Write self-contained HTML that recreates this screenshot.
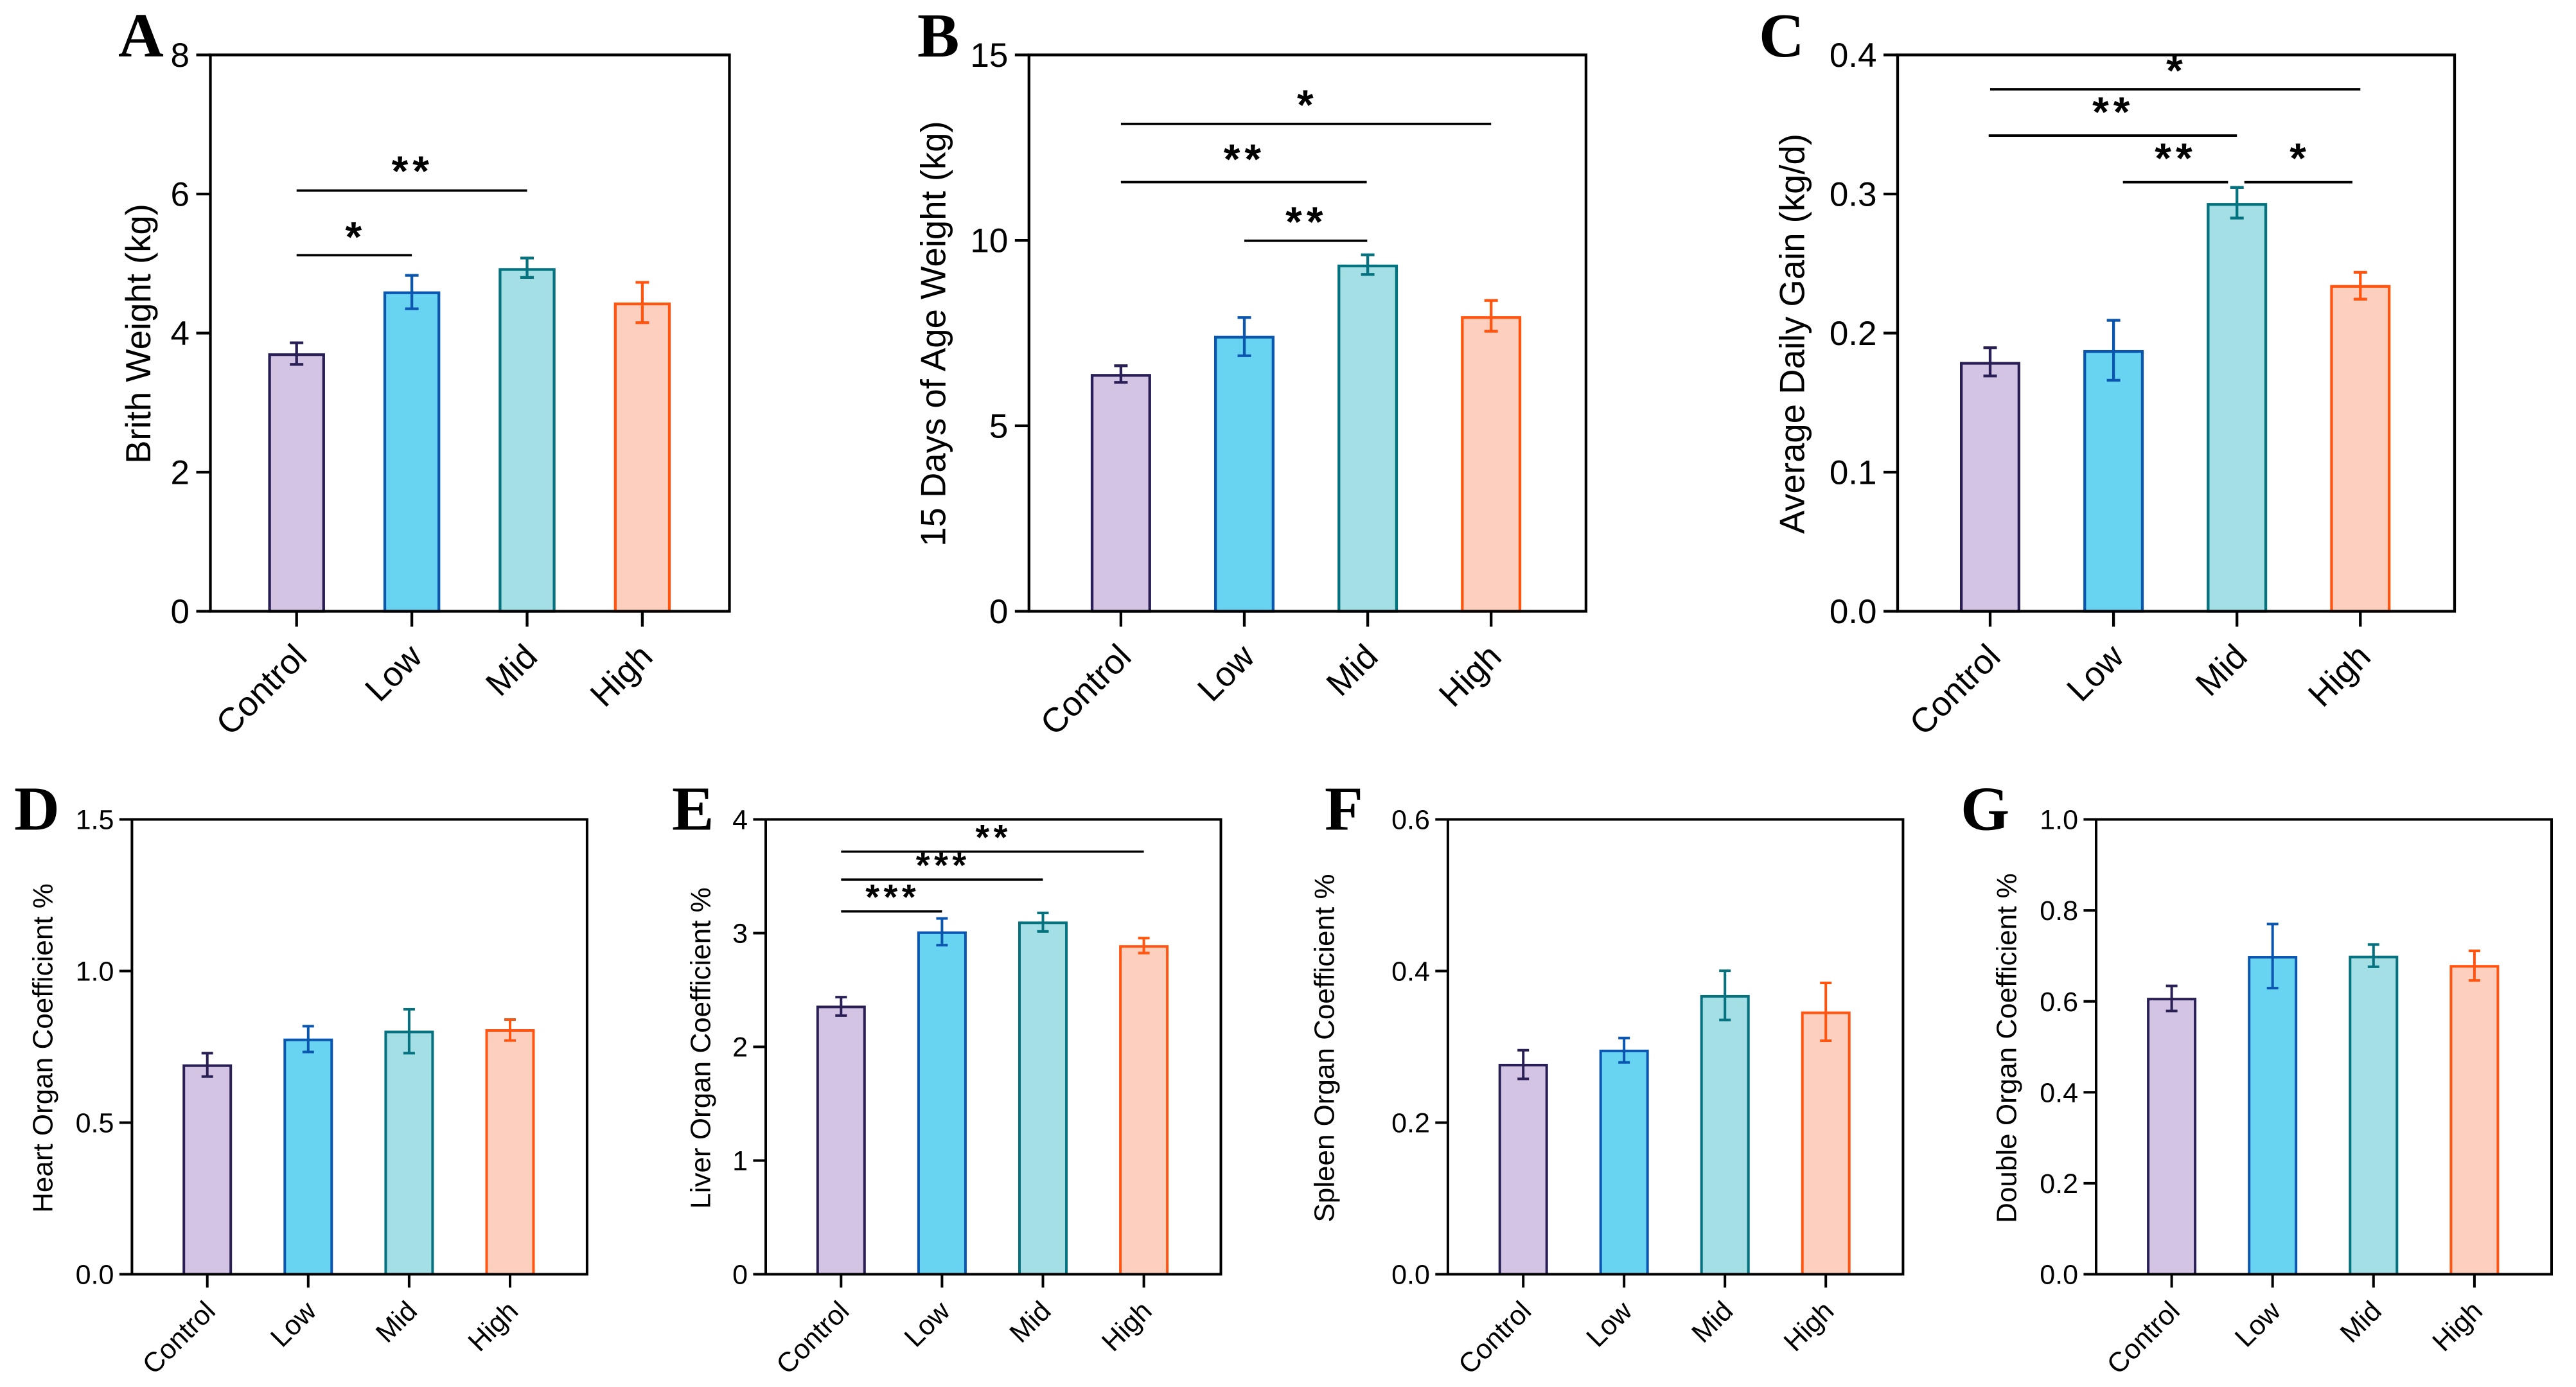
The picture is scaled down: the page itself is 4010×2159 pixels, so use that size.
<!DOCTYPE html>
<html lang="en">
<head>
<meta charset="utf-8">
<title>Growth and organ coefficient bar charts</title>
<style>
html,body{margin:0;padding:0;background:#fff;}
svg{display:block;}
text{font-family:"Liberation Sans",sans-serif;fill:#000;}
.panel-letter{font-family:"Liberation Serif",serif;font-weight:bold;}
</style>
</head>
<body>
<svg id="figure" xmlns="http://www.w3.org/2000/svg" width="4010" height="2159" viewBox="0 0 4010 2159"></svg>
<script>
const categories = ['Control', 'Low', 'Mid', 'High'];

const birthValues = [3.69, 4.58, 4.915, 4.42];
const birthUpper = [3.86, 4.83, 5.08, 4.73];
const birthLower = [3.55, 4.35, 4.80, 4.15];
const birthTicks = ['0', '2', '4', '6', '8'];

const dayWeightValues = [6.36, 7.39, 9.31, 7.92];
const dayWeightUpper = [6.62, 7.92, 9.61, 8.38];
const dayWeightLower = [6.17, 6.89, 9.08, 7.55];
const dayWeightTicks = ['0', '5', '10', '15'];

const gainValues = [0.1783, 0.1868, 0.2925, 0.2336];
const gainUpper = [0.1895, 0.2092, 0.3047, 0.2437];
const gainLower = [0.1692, 0.1661, 0.2827, 0.2244];
const gainTicks = ['0.0', '0.1', '0.2', '0.3', '0.4'];

const heartValues = [0.688, 0.773, 0.799, 0.804];
const heartUpper = [0.729, 0.818, 0.874, 0.840];
const heartLower = [0.652, 0.733, 0.729, 0.771];
const heartTicks = ['0.0', '0.5', '1.0', '1.5'];

const liverValues = [2.351, 3.004, 3.091, 2.883];
const liverUpper = [2.437, 3.129, 3.177, 2.956];
const liverLower = [2.275, 2.894, 3.015, 2.825];
const liverTicks = ['0', '1', '2', '3', '4'];

const spleenValues = [0.2759, 0.2946, 0.3666, 0.3449];
const spleenUpper = [0.2956, 0.3117, 0.4003, 0.3843];
const spleenLower = [0.2577, 0.2795, 0.3355, 0.3080];
const spleenTicks = ['0.0', '0.2', '0.4', '0.6'];

const doubleValues = [0.605, 0.697, 0.6975, 0.677];
const doubleUpper = [0.634, 0.770, 0.725, 0.711];
const doubleLower = [0.579, 0.629, 0.676, 0.646];
const doubleTicks = ['0.0', '0.2', '0.4', '0.6', '0.8', '1.0'];

/* significance brackets: start category, end category, value level */
const birthBrackets = [[0, 2, 6.05], [0, 1, 5.12]];
const birthStars = [['**', 0.987, 6.42], ['*', 0.494, 5.47]];
const dayWeightBrackets = [[0, 3, 13.14], [0, 1.992, 11.57], [1, 1.996, 9.99]];
const dayWeightStars = [['*', 1.494, 13.82], ['**', 0.984, 12.36], ['**', 1.486, 10.67]];
const gainBrackets = [[0, 3, 0.3753], [-0.012, 2, 0.342], [1.076, 1.928, 0.3085], [2.06, 2.936, 0.3085]];
const gainStars = [['*', 1.494, 0.3932], ['**', 0.98, 0.3634], ['**', 1.486, 0.3302], ['*', 2.494, 0.3302]];
const liverBrackets = [[0, 3, 3.717], [0, 2, 3.471], [0, 1, 3.191]];
const liverStars = [['**', 1.49, 3.889], ['***', 0.991, 3.644], ['***', 0.491, 3.364]];

const fills = ['#D3C4E4', '#69D4F2', '#A3DFE5', '#FDCFBE'];
const strokes = ['#2A1F55', '#0B57B0', '#04727F', '#FF5510'];

const large = {tickFont: 53, titleFont: 54.5, yTickLen: 22, xTickLen: 24, labelGap: 32.5, capWidth: 21, lineW: 4.3, starFont: 66, starGap: 7, xdx: 19, xdy: 74, xFont: 53.5, letterFont: 98, titleShift: 1};
const small = {tickFont: 43, titleFont: 44, yTickLen: 19.6, xTickLen: 20.8, labelGap: 28, capWidth: 18, lineW: 4, starFont: 56, starGap: 6.5, xdx: 15, xdy: 60, xFont: 43, letterFont: 98, titleShift: 2};

const panels = [
  {id: 'a', letter: 'A', letterX: 184, letterY: 88, title: 'Brith Weight (kg)', titleX: 215.7, left: 327.5, right: 1135.5, top: 85.5, bottom: 951.5, cat0: 461.7, catStep: 179.4, barW: 88.5, yMax: 8, values: birthValues, upper: birthUpper, lower: birthLower, ticks: birthTicks, brackets: birthBrackets, stars: birthStars, style: large},
  {id: 'b', letter: 'B', letterX: 1428, letterY: 88, title: '15 Days of Age Weight (kg)', titleX: 1453, left: 1601.8, right: 2468.9, top: 85.5, bottom: 951.5, cat0: 1744.9, catStep: 192.1, barW: 94, yMax: 15, values: dayWeightValues, upper: dayWeightUpper, lower: dayWeightLower, ticks: dayWeightTicks, brackets: dayWeightBrackets, stars: dayWeightStars, style: large},
  {id: 'c', letter: 'C', letterX: 2738, letterY: 88, title: 'Average Daily Gain (kg/d)', titleX: 2790, left: 2954, right: 3821, top: 85.5, bottom: 951.5, cat0: 3098, catStep: 192.1, barW: 94, yMax: 0.4, values: gainValues, upper: gainUpper, lower: gainLower, ticks: gainTicks, brackets: gainBrackets, stars: gainStars, style: large},
  {id: 'd', letter: 'D', letterX: 22, letterY: 1291.7, title: 'Heart Organ Coefficient %', titleX: 67, left: 205.4, right: 913.9, top: 1275.5, bottom: 1983.5, cat0: 322.7, catStep: 157.1, barW: 77, yMax: 1.5, values: heartValues, upper: heartUpper, lower: heartLower, ticks: heartTicks, brackets: [], stars: [], style: small},
  {id: 'e', letter: 'E', letterX: 1046, letterY: 1291.7, title: 'Liver Organ Coefficient %', titleX: 1091, left: 1192, right: 1900.5, top: 1275.5, bottom: 1983.5, cat0: 1309.3, catStep: 157.1, barW: 77, yMax: 4, values: liverValues, upper: liverUpper, lower: liverLower, ticks: liverTicks, brackets: liverBrackets, stars: liverStars, style: small},
  {id: 'f', letter: 'F', letterX: 2062, letterY: 1291.7, title: 'Spleen Organ Coefficient %', titleX: 2062, left: 2253.9, right: 2962.4, top: 1275.5, bottom: 1983.5, cat0: 2371.2, catStep: 157, barW: 77, yMax: 0.6, values: spleenValues, upper: spleenUpper, lower: spleenLower, ticks: spleenTicks, brackets: [], stars: [], style: small},
  {id: 'g', letter: 'G', letterX: 3052, letterY: 1291.7, title: 'Double Organ Coefficient %', titleX: 3124, left: 3263, right: 3972, top: 1275.5, bottom: 1983.5, cat0: 3380.6, catStep: 157.1, barW: 77, yMax: 1, values: doubleValues, upper: doubleUpper, lower: doubleLower, ticks: doubleTicks, brackets: [], stars: [], style: small}
];

const NS = 'http://www.w3.org/2000/svg';
const figure = document.getElementById('figure');

function mk(tag, parent, attrs, content) {
  const node = document.createElementNS(NS, tag);
  for (const key in attrs) node.setAttribute(key, attrs[key]);
  if (content !== undefined) node.textContent = content;
  parent.appendChild(node);
  return node;
}

function drawPanel(p) {
  const s = p.style;
  const yScale = function (v) { return p.bottom - (v / p.yMax) * (p.bottom - p.top); };
  const xScale = function (i) { return p.cat0 + i * p.catStep; };

  const g = mk('g', figure, {});
  
  

  const letter = mk('text', g, {x: p.letterX, y: p.letterY, class: 'panel-letter', 'font-size': s.letterFont}, p.letter);
  
  

  const cy = (p.top + p.bottom) / 2 + s.titleShift;
  const title = mk('text', g, {x: p.titleX, y: cy, 'font-size': s.titleFont, 'text-anchor': 'middle', 'dominant-baseline': 'central', transform: 'rotate(-90 ' + p.titleX + ' ' + cy + ')'}, p.title);
  
  

  p.values.forEach(function (value, i) {
    const inset = s.lineW / 2;
    const bar = mk('rect', g, {x: xScale(i) - p.barW / 2 + inset, y: yScale(value), width: p.barW - s.lineW, height: yScale(0) - yScale(value), fill: fills[i], stroke: strokes[i], 'stroke-width': s.lineW});
    
    

    const stem = mk('line', g, {x1: xScale(i), x2: xScale(i), y1: yScale(p.upper[i]), y2: yScale(p.lower[i]), stroke: strokes[i], 'stroke-width': s.lineW});
    
    

    const capTop = mk('line', g, {x1: xScale(i) - s.capWidth / 2, x2: xScale(i) + s.capWidth / 2, y1: yScale(p.upper[i]), y2: yScale(p.upper[i]), stroke: strokes[i], 'stroke-width': s.lineW});
    
    

    const capBottom = mk('line', g, {x1: xScale(i) - s.capWidth / 2, x2: xScale(i) + s.capWidth / 2, y1: yScale(p.lower[i]), y2: yScale(p.lower[i]), stroke: strokes[i], 'stroke-width': s.lineW});
    
    
  });

  const frame = mk('rect', g, {x: p.left, y: p.top, width: p.right - p.left, height: p.bottom - p.top, fill: 'none', stroke: '#000', 'stroke-width': s.lineW});
  
  

  p.ticks.forEach(function (label, i) {
    const value = p.yMax * i / (p.ticks.length - 1);
    const tick = mk('line', g, {x1: p.left - s.yTickLen, x2: p.left, y1: yScale(value), y2: yScale(value), stroke: '#000', 'stroke-width': s.lineW});
    
    

    const text = mk('text', g, {x: p.left - s.labelGap, y: yScale(value) + s.tickFont * 0.35, 'font-size': s.tickFont, 'text-anchor': 'end'}, label);
    
    
  });

  categories.forEach(function (cat, i) {
    const tick = mk('line', g, {x1: xScale(i), x2: xScale(i), y1: p.bottom, y2: p.bottom + s.xTickLen, stroke: '#000', 'stroke-width': s.lineW});
    
    

    const lx = xScale(i) + s.xdx;
    const ly = p.bottom + s.xdy;
    const text = mk('text', g, {x: lx, y: ly, 'font-size': s.xFont, 'text-anchor': 'end', transform: 'rotate(-45 ' + lx + ' ' + ly + ')'}, cat);
    
    
  });

  p.brackets.forEach(function (b) {
    const line = mk('line', g, {x1: xScale(b[0]), x2: xScale(b[1]), y1: yScale(b[2]), y2: yScale(b[2]), stroke: '#000', 'stroke-width': s.lineW - 0.5});
    
    
  });

  p.stars.forEach(function (st) {
    const star = mk('text', g, {x: xScale(st[1]) + s.starGap / 2, y: yScale(st[2]) + s.starFont * 0.49, 'font-size': s.starFont, 'font-weight': 'bold', 'text-anchor': 'middle', 'letter-spacing': s.starGap}, st[0]);
    
    
  });
}

panels.forEach(drawPanel);
</script>
</body>
</html>
